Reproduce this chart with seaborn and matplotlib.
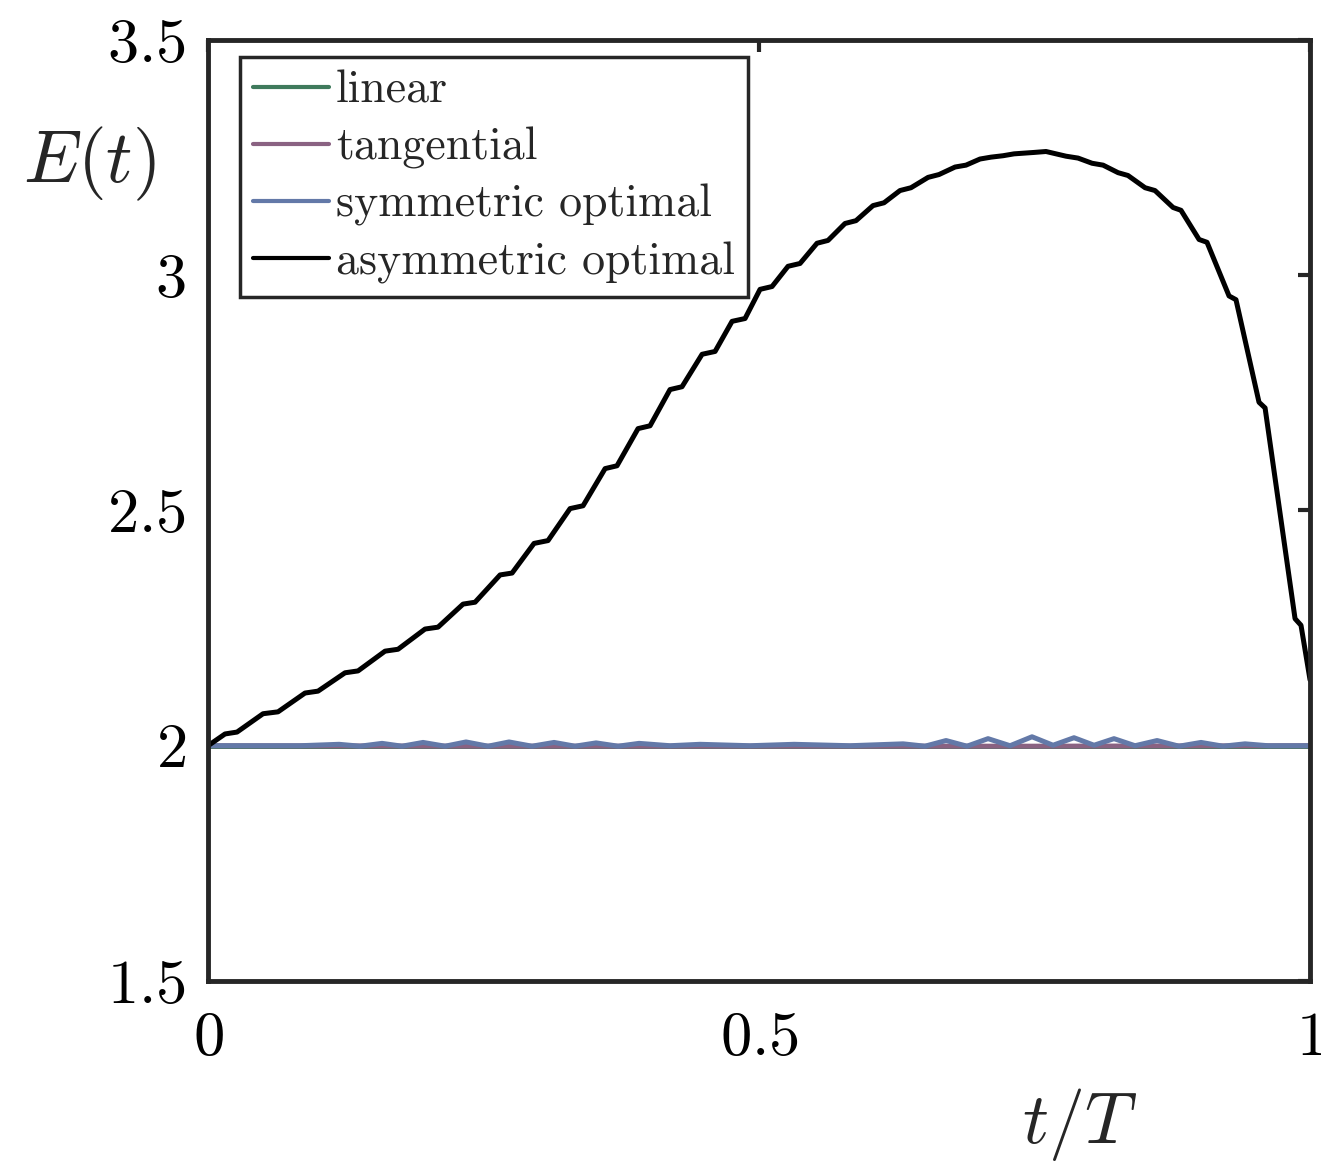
import numpy as np
import pandas as pd
import matplotlib
matplotlib.use("Agg")
import matplotlib.pyplot as plt
import seaborn as sns

# values
t_asym = [0.0, 0.0154, 0.0263, 0.0499, 0.0635, 0.0880, 0.0998, 0.1243, 0.1361,
          0.1606, 0.1724, 0.1969, 0.2087, 0.2314, 0.2423, 0.2650, 0.2759,
          0.2958, 0.3085, 0.3285, 0.3403, 0.3603, 0.3711, 0.3902, 0.4011,
          0.4192, 0.4301, 0.4483, 0.4601, 0.4755, 0.4873, 0.5009, 0.5118,
          0.5263, 0.5372, 0.5526, 0.5626, 0.5780, 0.5880, 0.6034, 0.6134,
          0.6279, 0.6379, 0.6534, 0.6633, 0.6779, 0.6878, 0.7005, 0.7105,
          0.7214, 0.7314, 0.7495, 0.7604, 0.7786, 0.7895, 0.8022, 0.8122,
          0.8258, 0.8348, 0.8503, 0.8593, 0.8757, 0.8829, 0.8993, 0.9065,
          0.9265, 0.9328, 0.9537, 0.9592, 0.9864, 0.9918, 1.0]
E_asym = [2.000, 2.025, 2.029, 2.068, 2.072, 2.112, 2.116, 2.155, 2.159,
          2.201, 2.205, 2.248, 2.252, 2.301, 2.305, 2.363, 2.367,
          2.430, 2.436, 2.504, 2.510, 2.589, 2.595, 2.674, 2.680,
          2.757, 2.763, 2.832, 2.838, 2.902, 2.908, 2.970, 2.976,
          3.019, 3.025, 3.068, 3.074, 3.110, 3.116, 3.148, 3.154,
          3.180, 3.186, 3.208, 3.214, 3.230, 3.234, 3.247, 3.251,
          3.254, 3.258, 3.261, 3.263, 3.253, 3.249, 3.238, 3.234,
          3.218, 3.212, 3.186, 3.180, 3.144, 3.138, 3.076, 3.070,
          2.956, 2.948, 2.730, 2.718, 2.270, 2.256, 2.140]

t_sym = [0.0, 0.0835, 0.1189, 0.1379, 0.1579, 0.1760, 0.1951, 0.2151, 0.2341,
         0.2541, 0.2731, 0.2940, 0.3140, 0.3330, 0.3521, 0.3721, 0.3911,
         0.4192, 0.4465, 0.4918, 0.5318, 0.5826, 0.6307, 0.6506, 0.6697,
         0.6887, 0.7078, 0.7278, 0.7477, 0.7668, 0.7858, 0.8040, 0.8221,
         0.8412, 0.8612, 0.8811, 0.9011, 0.9211, 0.9410, 0.9619, 1.0]
E_sym = [2.000, 2.000, 2.003, 1.999, 2.005, 1.999, 2.007, 1.999, 2.008,
         1.999, 2.008, 1.999, 2.007, 1.999, 2.006, 1.999, 2.005,
         2.000, 2.003, 2.000, 2.003, 2.000, 2.004, 1.999, 2.011,
         1.999, 2.015, 2.000, 2.019, 2.001, 2.017, 2.001, 2.015,
         2.000, 2.011, 1.999, 2.007, 1.999, 2.004, 2.000, 2.000]

t_tan = [0.0, 0.25, 0.5, 0.75, 1.0]
E_tan = [2.000, 1.999, 1.999, 1.999, 2.000]

t_lin = [0.0, 1.0]
E_lin = [2.000, 2.000]

labels = ["linear", "tangential", "symmetric optimal", "asymmetric optimal"]
colors = ["#3f7a5c", "#8a6282", "#6379a8", "black"]

sns.set_style("white")
plt.rcParams["font.family"] = ["cmr10", "DejaVu Serif"]
plt.rcParams["mathtext.fontset"] = "cm"
plt.rcParams["axes.formatter.use_mathtext"] = True

ax_col = "#262626"
fig = plt.figure(figsize=(13.21, 11.66), dpi=100)
ax = fig.add_axes([0.1575, 0.1587, 0.9917 - 0.1575, 0.9657 - 0.1587])

series = [(t_lin, E_lin), (t_tan, E_tan), (t_sym, E_sym), (t_asym, E_asym)]
for (tt, ee), lab, col in zip(series, labels, colors):
    sns.lineplot(x=tt, y=ee, ax=ax, color=col, lw=3.6, label=lab,
                 sort=False, estimator=None, solid_joinstyle="round",
                 solid_capstyle="round")

ax.set_xlim(0, 1)
ax.set_ylim(1.5, 3.5)
ax.set_xticks([0, 0.5, 1])
ax.set_xticklabels(["$0$", "$0.5$", "$1$"])
ax.set_yticks([1.5, 2, 2.5, 3, 3.5])
ax.set_yticklabels(["$1.5$", "$2$", "$2.5$", "$3$", "$3.5$"])
ax.tick_params(direction="in", length=8.5, width=3, colors=ax_col,
               labelcolor="black", labelsize=45, top=True, right=True)
ax.tick_params(axis="x", pad=22)
ax.tick_params(axis="y", pad=16)
for sp in ax.spines.values():
    sp.set_color(ax_col)
    sp.set_linewidth(3.5)

ax.set_xlabel("$t/T$", fontsize=52)
ax.xaxis.set_label_coords(0.791, -0.112)
ax.set_ylabel("$E(t)$", fontsize=53, rotation=0, ha="center", va="center")
ax.yaxis.set_label_coords(-0.108, 0.868)

leg = ax.legend(loc="upper left", bbox_to_anchor=(0.029, 0.982),
                borderaxespad=0, fontsize=33, handlelength=1.65,
                handletextpad=0.15, labelspacing=0.33, borderpad=0.29,
                fancybox=False, framealpha=1, edgecolor=ax_col)
leg.get_frame().set_linewidth(2.5)
for h in leg.get_lines():
    h.set_linewidth(3)

fig.savefig("out.png", dpi=100)
